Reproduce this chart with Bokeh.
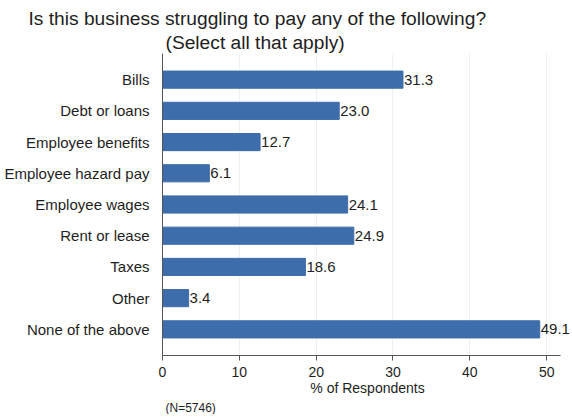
from bokeh.plotting import figure
from bokeh.models import FactorRange, Range1d, Title, ColumnDataSource, LabelSet, FixedTicker
from bokeh.core.properties import value
from bokeh.embed import file_html
from bokeh.resources import INLINE

categories = ["Bills", "Debt or loans", "Employee benefits", "Employee hazard pay",
              "Employee wages", "Rent or lease", "Taxes", "Other", "None of the above"]
values = [31.3, 23.0, 12.7, 6.1, 24.1, 24.9, 18.6, 3.4, 49.1]
x_ticks = [0, 10, 20, 30, 40, 50]
title_line1 = "Is this business struggling to pay any of the following?"
title_line2 = "(Select all that apply)"
note = "(N=5746)"

FONT = "Liberation Sans"
TXT = "#1e1e1e"
BAR = "#3e6dab"
AXIS_END = 51.8

src = ColumnDataSource(dict(cat=categories, val=values,
                            lab=[f"{v:.1f}" for v in values]))

p = figure(frame_width=410, frame_height=302,
           y_range=FactorRange(factors=categories[::-1], range_padding=0.075),
           x_range=Range1d(0, AXIS_END + 12 / 7.68),
           output_backend="svg", toolbar_location=None,
           min_border_left=162, min_border_right=0,
           min_border_top=53, min_border_bottom=0)

p.hbar(y="cat", right="val", left=0, height=0.55, source=src,
       fill_color=BAR, line_color=BAR)

labels = LabelSet(x="val", y="cat", text="lab", source=src, x_offset=1,
                  text_baseline="middle", text_align="left",
                  text_font_size="15px", text_color=TXT, text_font=value(FONT))
p.add_layout(labels)

p.title.text = title_line1
p.title.align = "left"
p.title.offset = -134
p.title.text_font_size = "19.2px"
p.title.text_font = FONT
p.title.text_font_style = "normal"
p.title.text_color = TXT
p.title.standoff = 0

t2 = Title(text=title_line2, align="left", offset=3, text_font_size="19.2px",
           text_font=FONT, text_font_style="normal", text_color=TXT, standoff=2)
p.add_layout(t2, "above")

p.outline_line_color = None
p.background_fill_color = "white"
p.border_fill_color = "white"
p.ygrid.grid_line_color = None
p.xgrid.grid_line_color = "#f0f0f0"
p.xgrid.ticker = FixedTicker(ticks=x_ticks)

xa = p.xaxis[0]
xa.ticker = FixedTicker(ticks=x_ticks)
xa.bounds = (0, AXIS_END)
xa.axis_label = "% of Respondents"
xa.axis_label_text_font = FONT
xa.axis_label_text_font_style = "normal"
xa.axis_label_text_font_size = "14px"
xa.axis_label_text_color = TXT
xa.axis_label_standoff = 0
xa.major_label_text_font = FONT
xa.major_label_text_font_size = "14px"
xa.major_label_text_color = TXT
xa.major_label_standoff = 6
xa.major_tick_out = 5
xa.major_tick_in = 0
xa.minor_tick_line_color = None
xa.axis_line_color = "#555555"
xa.major_tick_line_color = "#555555"

ya = p.yaxis[0]
ya.major_label_text_font = FONT
ya.major_label_text_font_size = "15px"
ya.major_label_text_color = TXT
ya.major_label_standoff = 7
ya.major_tick_line_color = None
ya.minor_tick_line_color = None
ya.axis_line_color = "#555555"

n = Title(text=note, align="left", offset=3, text_font_size="12px",
          text_font=FONT, text_font_style="normal", text_color=TXT, standoff=0)
p.add_layout(n, "below")

open("out.html", "w").write(file_html(p, INLINE))
